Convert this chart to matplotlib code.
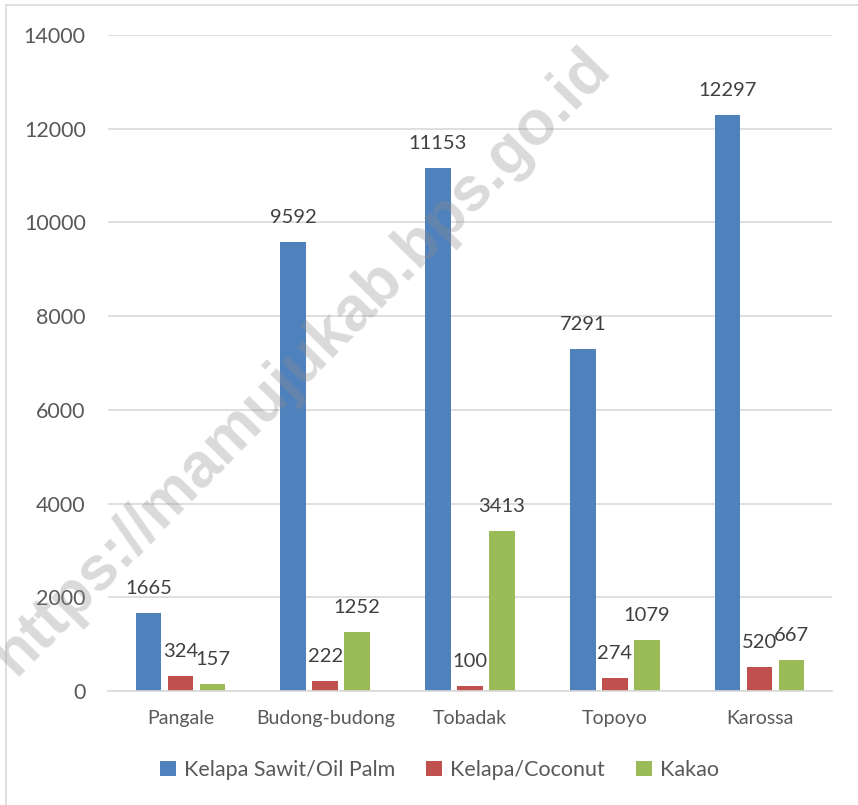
import matplotlib

matplotlib.use("Agg")
import matplotlib.pyplot as plt
from matplotlib.patches import Rectangle
import numpy as np

plt.rcParams["font.family"] = ["Lato", "DejaVu Sans"]

categories = ["Pangale", "Budong-budong", "Tobadak", "Topoyo", "Karossa"]
series_names = ["Kelapa Sawit/Oil Palm", "Kelapa/Coconut", "Kakao"]
oil_palm = [1665, 9592, 11153, 7291, 12297]
coconut = [324, 222, 100, 274, 520]
kakao = [157, 1252, 3413, 1079, 667]
colors = ["#4F81BD", "#C0504D", "#9BBB59"]

fig = plt.figure(figsize=(8.58, 8.05), dpi=100)
ax = fig.add_axes([108 / 858, 1 - 691 / 805, 724 / 858, 656 / 805])

x = np.arange(len(categories))
width = 0.176
step = 0.221
for i, (vals, name, col) in enumerate(zip([oil_palm, coconut, kakao], series_names, colors)):
    pos = x + (i - 1) * step
    ax.bar(pos, vals, width, color=col, label=name, zorder=2)
    for px, v in zip(pos, vals):
        ax.annotate(str(v), (px, v), xytext=(0, 11.5), textcoords="offset points",
                    ha="center", va="bottom", fontsize=14.5, color="#404040")

ax.set_xlim(-0.5, len(categories) - 0.5)
ax.set_ylim(0, 14000)
ax.set_yticks(np.arange(0, 14001, 2000))
ax.set_xticks(x)
ax.set_xticklabels(categories)
ax.tick_params(axis="both", length=0, colors="#595959")
ax.tick_params(axis="y", pad=16, labelsize=15.5)
ax.tick_params(axis="x", pad=14, labelsize=14)
ax.grid(axis="y", color="#d9d9d9", linewidth=1.2, zorder=0)
ax.set_axisbelow(True)
for s in ["top", "right", "left"]:
    ax.spines[s].set_visible(False)
ax.spines["bottom"].set_color("#d9d9d9")
ax.spines["bottom"].set_linewidth(1.2)

leg = fig.legend(loc="center", bbox_to_anchor=(0.512, 1 - 770 / 805), ncol=3,
                 frameon=False, fontsize=15.5, handlelength=0.75, handleheight=0.75,
                 handletextpad=0.35, columnspacing=1.45)
for t in leg.get_texts():
    t.set_color("#595959")

# outer border of the chart area
fig.add_artist(Rectangle((6 / 858, -0.1), 1.2, 1 - 5 / 805 + 0.1, transform=fig.transFigure,
                         fill=False, edgecolor="#d9d9d9", linewidth=1.2))

# watermark
fig.text(302 / 858, 1 - 362 / 805, "https://mamujukab.bps.go.id", rotation=45.5,
         ha="center", va="center", fontsize=45, fontweight="bold",
         family="Liberation Sans", color="#8c8c8c", alpha=0.32, zorder=10)

fig.savefig("out.png", dpi=100)
